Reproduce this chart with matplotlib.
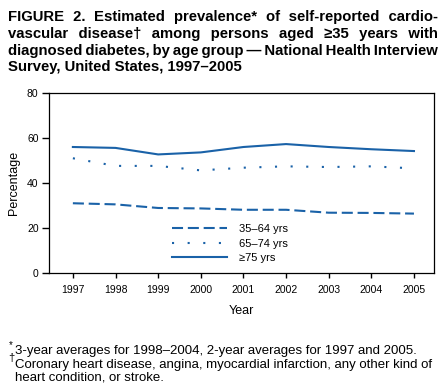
import numpy as np
import matplotlib
matplotlib.use("Agg")
import matplotlib.pyplot as plt

plt.rcParams['font.family'] = ['Liberation Sans', 'DejaVu Sans']

years = [1997, 1998, 1999, 2000, 2001, 2002, 2003, 2004, 2005]
age_35_64 = [31.0, 30.5, 28.9, 28.7, 28.1, 28.1, 26.8, 26.7, 26.4]
age_65_74 = [51.0, 47.6, 47.6, 45.6, 46.8, 47.4, 47.1, 47.4, 46.5]
age_75 = [56.0, 55.6, 52.7, 53.6, 56.0, 57.3, 56.0, 55.0, 54.2]
labels = ['35\u201364 yrs', '65\u201374 yrs', '\u226575 yrs']

title_lines = [
    "FIGURE 2. Estimated prevalence* of self-reported cardio-",
    "vascular disease\u2020 among persons aged \u226535 years with",
    "diagnosed diabetes, by age group \u2014 National Health Interview",
    "Survey, United States, 1997\u20132005",
]

blue = '#1a62a8'
W, H = 446, 387
fig = plt.figure(figsize=(W / 100, H / 100), dpi=100)
ax = fig.add_axes([49 / W, 1 - 273 / H, (434 - 49) / W, (273 - 93) / H])

l1, = ax.plot(years, age_35_64, color=blue, lw=1.5, dashes=(5.3, 2.3))
l2, = ax.plot(years, age_65_74, color=blue, lw=1.5, dashes=(1, 6.5))
l3, = ax.plot(years, age_75, color=blue, lw=1.5)

ax.set_xlim(1996.44, 2005.47)
ax.set_ylim(0, 80)
ax.set_xticks(years)
ax.set_yticks([0, 20, 40, 60, 80])
ax.tick_params(labelsize=7.5, width=1)
ax.tick_params(axis='x', length=3.6, pad=5)
ax.tick_params(axis='y', length=5, pad=2.5)
for s in ax.spines.values():
    s.set_linewidth(0.9)
ax.set_xlabel('Year', fontsize=9, labelpad=7)
ax.set_ylabel('Percentage', fontsize=9, labelpad=5)

ax.legend([l1, l2, l3], labels, loc='upper left', bbox_to_anchor=(172 / W, 1 - 224 / H),
          bbox_transform=fig.transFigure, frameon=False, fontsize=8,
          handlelength=4.95, handletextpad=1.05, labelspacing=0.42, borderpad=0, borderaxespad=0)

# title: one text per line, justified by padding the word gaps with
# regular, thin and hair spaces
fig.canvas.draw()
renderer = fig.canvas.get_renderer()
tfs = 10.7
x0, x1 = 8, 438
baselines = [21.5, 38, 54.5, 71]


def width(s):
    t = fig.text(0, 0, s, fontsize=tfs, fontweight='bold')
    w = t.get_window_extent(renderer).width
    t.remove()
    return w


base = width('ab')
sp = width('a b') - base
th = width('a\u2009b') - base
hr = width('a\u200ab') - base

for i, line in enumerate(title_lines):
    y = 1 - baselines[i] / H
    words = line.split(' ')
    if i == len(title_lines) - 1:
        fig.text(x0 / W, y, line, fontsize=tfs, fontweight='bold', va='baseline')
        continue
    widths = [width(w) for w in words]
    gap = (x1 - x0 - sum(widths)) / (len(words) - 1)
    s = words[0]
    carry = 0.0
    for w in words[1:]:
        target = gap + carry
        best = None
        for a in range(0, 5):
            for b in range(0, 6):
                for c in range(0, 6):
                    if a + b == 0:
                        continue
                    v = a * sp + b * th + c * hr
                    err = abs(v - target)
                    if best is None or err < best[0]:
                        best = (err, a, b, c, v)
        _, a, b, c, v = best
        carry = target - v
        s += ' ' * a + '\u2009' * b + '\u200a' * c + w
    fig.text(x0 / W, y, s, fontsize=tfs, fontweight='bold', va='baseline')

fs = 9.5
fig.text(9 / W, 1 - 348 / H, '*', fontsize=7)
fig.text(15 / W, 1 - 351 / H, '3-year averages for 1998\u20132004, 2-year averages for 1997 and 2005.',
         fontsize=fs, va='center')
fig.text(8 / W, 1 - 358 / H, '\u2020', fontsize=8, va='center')
fig.text(15 / W, 1 - 365 / H, 'Coronary heart disease, angina, myocardial infarction, any other kind of',
         fontsize=fs, va='center')
fig.text(15 / W, 1 - 378 / H, 'heart condition, or stroke.', fontsize=fs, va='center')

fig.savefig('out.png', dpi=100)
